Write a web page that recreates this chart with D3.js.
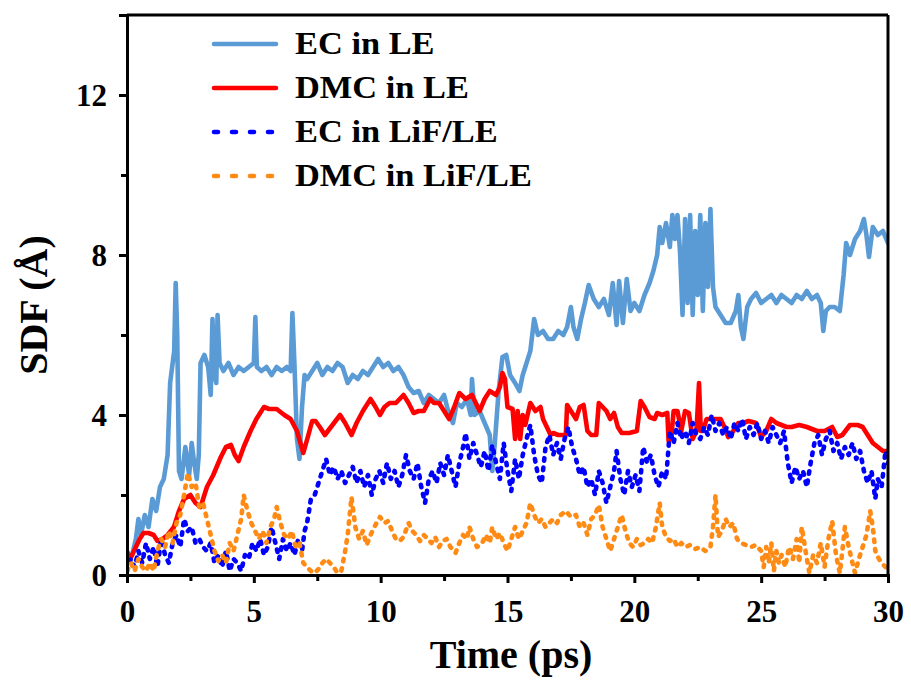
<!DOCTYPE html>
<html>
<head>
<meta charset="utf-8">
<script src="https://cdn.jsdelivr.net/npm/d3@7"></script>
<style>
  html, body { margin: 0; padding: 0; background: #fff; }
  svg { display: block; }
  text { font-family: "Liberation Serif", "Times New Roman", serif; font-weight: bold; fill: #000; }
</style>
</head>
<body>
<svg id="chart" width="911" height="682"></svg>
<script>
// ---------------- data (time in ps, SDF in Å) ----------------
const seriesNames = ["EC in LE", "DMC in LE", "EC in LiF/LE", "DMC in LiF/LE"];
const xTickValues = [0, 5, 10, 15, 20, 25, 30];
const yTickValues = [0, 4, 8, 12];

const ecLE = [[0,0.3],[0.2,0.5],[0.35,0.9],[0.45,1.4],[0.55,1.0],[0.7,1.5],[0.85,1.2],[1.0,1.9],[1.15,1.6],[1.3,2.2],[1.45,2.4],[1.6,3.0],[1.7,4.8],[1.78,5.2],[1.86,5.6],[1.92,7.3],[1.98,6.0],[2.05,2.6],[2.15,2.4],[2.3,3.2],[2.45,2.5],[2.55,3.3],[2.65,2.8],[2.75,2.4],[2.83,3.0],[2.9,5.3],[3.05,5.5],[3.2,5.2],[3.3,4.5],[3.37,6.4],[3.45,5.0],[3.52,4.8],[3.57,6.5],[3.65,5.3],[3.8,5.1],[4.0,5.3],[4.2,5.0],[4.4,5.2],[4.6,5.1],[4.8,5.2],[5.0,5.3],[5.06,6.45],[5.12,5.2],[5.3,5.1],[5.5,5.2],[5.7,5.0],[5.9,5.2],[6.1,5.1],[6.3,5.2],[6.45,5.1],[6.52,6.55],[6.6,5.3],[6.7,3.4],[6.8,2.9],[6.9,4.2],[7.0,5.0],[7.1,4.9],[7.3,5.1],[7.5,5.3],[7.7,5.0],[7.9,5.2],[8.1,5.1],[8.3,5.3],[8.5,5.2],[8.7,4.8],[8.9,5.0],[9.1,4.9],[9.3,5.1],[9.5,5.0],[9.7,5.2],[9.9,5.4],[10.1,5.2],[10.3,5.3],[10.5,5.1],[10.7,5.2],[10.9,5.0],[11.1,4.7],[11.3,4.55],[11.5,4.6],[11.7,4.3],[11.9,4.5],[12.1,4.4],[12.3,4.3],[12.5,4.5],[12.7,4.0],[12.85,3.8],[13.0,4.3],[13.2,4.2],[13.4,4.4],[13.55,4.0],[13.6,4.9],[13.7,4.0],[13.9,4.1],[14.1,3.8],[14.3,3.5],[14.4,2.6],[14.5,3.3],[14.65,4.6],[14.8,5.45],[14.95,5.5],[15.1,5.0],[15.3,4.8],[15.47,4.6],[15.6,5.0],[15.75,5.3],[15.9,5.6],[16.05,6.4],[16.2,6.0],[16.4,6.1],[16.6,5.9],[16.8,5.9],[17.0,6.1],[17.2,6.0],[17.35,6.2],[17.5,6.7],[17.6,6.2],[17.75,5.9],[17.9,6.4],[18.05,6.8],[18.2,7.25],[18.4,6.9],[18.6,6.7],[18.8,6.9],[19.0,6.5],[19.15,7.3],[19.3,6.25],[19.4,7.35],[19.55,6.3],[19.7,7.4],[19.85,6.6],[20.0,6.8],[20.2,6.6],[20.4,7.0],[20.6,7.3],[20.75,7.6],[20.9,8.0],[21.0,8.7],[21.1,8.3],[21.25,8.8],[21.4,8.2],[21.5,9.0],[21.6,8.4],[21.7,9.0],[21.8,8.1],[21.9,6.5],[22.0,8.9],[22.1,6.8],[22.2,9.0],[22.3,6.5],[22.4,8.6],[22.5,7.0],[22.6,9.0],[22.7,6.6],[22.8,8.8],[22.9,7.2],[23.0,9.15],[23.1,7.2],[23.2,6.7],[23.4,6.5],[23.6,6.3],[23.8,6.3],[24.0,6.6],[24.1,7.0],[24.2,6.2],[24.3,5.9],[24.45,6.7],[24.6,6.9],[24.8,7.05],[25.0,6.8],[25.2,6.9],[25.4,7.0],[25.6,6.8],[25.8,7.0],[26.0,6.9],[26.2,6.8],[26.4,7.0],[26.6,6.9],[26.8,7.1],[27.0,6.9],[27.2,7.0],[27.35,6.8],[27.45,6.1],[27.55,6.6],[27.7,6.7],[27.9,6.7],[28.1,6.6],[28.25,7.5],[28.35,8.3],[28.5,8.0],[28.7,8.4],[28.9,8.6],[29.05,8.9],[29.15,8.5],[29.25,7.95],[29.4,8.7],[29.6,8.5],[29.8,8.6],[30.0,8.3]];

const dmcLE = [[0,0.6],[0.1,0.4],[0.2,0.5],[0.35,0.7],[0.5,0.9],[0.65,1.05],[0.85,1.05],[1.05,1.0],[1.2,0.85],[1.4,0.9],[1.6,1.0],[1.85,1.2],[2.05,1.6],[2.25,1.9],[2.5,2.0],[2.7,1.8],[2.9,1.7],[3.15,2.2],[3.4,2.5],[3.7,2.95],[3.9,3.2],[4.1,3.25],[4.25,3.0],[4.4,2.85],[4.6,3.2],[4.87,3.6],[5.1,3.9],[5.4,4.2],[5.6,4.15],[5.9,4.15],[6.2,4.0],[6.45,3.9],[6.7,3.6],[6.95,3.05],[7.15,3.5],[7.3,3.85],[7.43,3.85],[7.6,3.7],[7.8,3.5],[8.1,3.75],[8.4,4.0],[8.6,3.8],[8.85,3.5],[9.05,3.8],[9.3,4.1],[9.6,4.4],[9.8,4.2],[9.97,4.0],[10.15,4.2],[10.35,4.3],[10.6,4.3],[10.9,4.5],[11.1,4.3],[11.3,4.05],[11.5,4.1],[11.7,4.1],[11.95,4.4],[12.1,4.3],[12.3,4.3],[12.5,4.1],[12.7,3.9],[12.9,4.2],[13.1,4.55],[13.35,4.4],[13.6,4.5],[13.75,4.3],[13.9,4.1],[14.1,4.4],[14.3,4.6],[14.55,4.5],[14.7,4.7],[14.8,5.05],[14.9,4.9],[15.0,4.2],[15.2,4.15],[15.3,3.4],[15.4,4.1],[15.5,3.4],[15.6,4.0],[15.7,3.75],[15.9,4.3],[16.1,4.1],[16.3,4.2],[16.4,3.9],[16.55,3.7],[16.7,3.5],[16.8,3.55],[17.0,3.5],[17.3,3.5],[17.35,4.25],[17.5,4.1],[17.7,3.9],[17.85,4.2],[18.0,4.25],[18.15,3.6],[18.3,3.5],[18.5,3.5],[18.6,4.3],[18.75,4.2],[18.9,4.1],[19.05,3.9],[19.2,4.05],[19.35,3.7],[19.5,3.55],[19.8,3.55],[20.1,3.6],[20.25,4.35],[20.4,4.2],[20.6,3.95],[20.8,3.9],[20.9,4.05],[21.1,4.0],[21.3,4.05],[21.35,3.35],[21.45,3.4],[21.55,4.1],[21.7,4.1],[21.85,3.6],[22.0,4.1],[22.15,4.05],[22.3,3.4],[22.45,3.6],[22.55,4.8],[22.62,3.6],[22.7,3.6],[22.85,3.9],[23.0,3.9],[23.2,3.9],[23.4,3.9],[23.55,3.7],[23.7,3.45],[23.9,3.6],[24.1,3.8],[24.3,3.8],[24.5,3.85],[24.8,3.8],[25.0,3.45],[25.2,3.6],[25.4,3.9],[25.6,3.8],[25.8,3.75],[26.0,3.7],[26.2,3.7],[26.5,3.75],[26.8,3.7],[27.0,3.65],[27.2,3.6],[27.5,3.6],[27.8,3.7],[28.0,3.45],[28.2,3.5],[28.5,3.75],[28.8,3.75],[29.0,3.7],[29.2,3.5],[29.4,3.3],[29.6,3.2],[29.8,3.1],[30.0,3.1]];

const ecLiF = [[0,0.1],[0.15,0.4],[0.3,0.2],[0.45,0.6],[0.6,0.3],[0.75,0.8],[0.9,0.4],[1.05,0.7],[1.2,0.2],[1.35,0.9],[1.5,0.5],[1.65,0.3],[1.8,0.8],[1.95,1.0],[2.1,0.7],[2.25,1.4],[2.4,1.1],[2.55,1.2],[2.7,0.8],[2.85,0.9],[3.0,0.7],[3.15,0.6],[3.3,0.8],[3.45,0.3],[3.6,0.5],[3.75,0.2],[3.9,0.6],[4.05,0.1],[4.2,0.4],[4.35,0.3],[4.5,0.1],[4.65,0.5],[4.8,0.4],[4.95,0.8],[5.1,0.6],[5.25,0.9],[5.4,0.5],[5.55,0.7],[5.7,1.2],[5.85,0.8],[6.0,0.4],[6.15,0.9],[6.3,0.6],[6.45,0.8],[6.6,0.5],[6.75,0.9],[6.9,0.6],[7.0,1.1],[7.1,1.3],[7.25,1.9],[7.4,2.0],[7.55,2.3],[7.7,2.6],[7.85,2.9],[8.0,2.5],[8.15,2.7],[8.3,2.4],[8.45,2.6],[8.6,2.3],[8.75,2.5],[8.9,2.7],[9.05,2.3],[9.2,2.6],[9.35,2.2],[9.5,2.5],[9.65,2.0],[9.8,2.4],[9.95,2.6],[10.1,2.3],[10.25,2.8],[10.4,2.4],[10.55,2.6],[10.7,2.2],[10.85,2.5],[11.0,3.0],[11.15,2.6],[11.3,2.4],[11.45,2.8],[11.6,2.2],[11.75,1.8],[11.9,2.4],[12.05,2.6],[12.2,2.3],[12.35,2.8],[12.5,2.5],[12.65,3.0],[12.8,2.6],[12.95,2.2],[13.1,2.8],[13.25,3.2],[13.35,3.55],[13.5,2.9],[13.65,3.3],[13.8,3.0],[13.95,2.7],[14.1,3.1],[14.25,2.6],[14.4,3.25],[14.55,2.8],[14.7,2.4],[14.85,3.3],[15.0,2.6],[15.15,2.1],[15.3,2.9],[15.45,2.4],[15.6,3.0],[15.75,3.4],[15.9,3.75],[16.05,3.0],[16.2,2.5],[16.35,2.3],[16.5,3.2],[16.65,3.5],[16.8,3.0],[16.95,3.3],[17.1,2.9],[17.25,3.4],[17.4,3.7],[17.55,3.2],[17.7,2.9],[17.85,2.5],[18.0,2.7],[18.15,2.2],[18.3,2.4],[18.45,2.0],[18.6,2.6],[18.75,2.3],[18.9,1.8],[19.05,2.2],[19.2,2.6],[19.3,3.1],[19.45,2.4],[19.6,2.0],[19.75,2.6],[19.9,2.2],[20.05,2.5],[20.2,2.1],[20.35,3.2],[20.5,2.8],[20.65,3.0],[20.8,2.5],[20.95,2.2],[21.1,2.6],[21.25,2.4],[21.4,3.6],[21.55,3.3],[21.7,3.8],[21.85,3.4],[22.0,3.6],[22.15,3.3],[22.3,3.8],[22.45,3.5],[22.6,3.4],[22.75,3.7],[22.9,3.5],[23.05,4.0],[23.2,3.6],[23.35,3.8],[23.5,3.5],[23.65,3.7],[23.8,3.4],[23.95,3.8],[24.1,3.6],[24.25,3.9],[24.4,3.4],[24.55,3.7],[24.7,3.5],[24.85,3.8],[25.0,3.4],[25.15,3.6],[25.3,3.3],[25.45,3.7],[25.6,3.5],[25.75,3.3],[25.9,3.6],[26.05,2.8],[26.2,2.3],[26.35,2.7],[26.5,2.4],[26.65,2.6],[26.8,2.2],[26.95,2.8],[27.1,3.3],[27.25,3.5],[27.4,3.0],[27.55,3.4],[27.7,3.6],[27.85,3.1],[28.0,3.3],[28.15,2.9],[28.3,3.2],[28.45,3.0],[28.6,3.3],[28.75,2.9],[28.9,3.1],[29.05,2.6],[29.2,2.3],[29.35,2.6],[29.5,1.9],[29.6,2.4],[29.75,2.2],[29.9,3.1],[30.0,2.8]];

const dmcLiF = [[0,0.1],[0.15,0.3],[0.3,0.1],[0.45,0.4],[0.6,0.2],[0.75,0.1],[0.9,0.3],[1.05,0.1],[1.2,0.6],[1.35,0.9],[1.5,0.7],[1.65,1.1],[1.8,0.8],[1.95,1.3],[2.1,1.5],[2.25,2.0],[2.4,2.55],[2.55,2.2],[2.7,2.3],[2.85,1.7],[3.0,1.8],[3.15,1.4],[3.3,1.0],[3.45,0.6],[3.6,0.35],[3.75,0.5],[3.9,0.3],[4.05,0.8],[4.2,0.6],[4.35,1.0],[4.5,1.4],[4.6,2.0],[4.75,1.6],[4.9,1.3],[5.05,1.1],[5.2,0.9],[5.35,1.1],[5.5,0.8],[5.65,1.2],[5.8,1.4],[5.9,1.7],[6.05,1.3],[6.2,1.0],[6.35,0.9],[6.5,1.1],[6.65,0.7],[6.8,0.8],[6.95,0.3],[7.1,0.2],[7.25,0.1],[7.4,0.05],[7.55,0.15],[7.7,0.3],[7.85,0.4],[8.0,0.3],[8.15,0.2],[8.3,0.05],[8.45,0.1],[8.6,0.6],[8.7,1.0],[8.85,1.95],[9.0,1.2],[9.15,0.9],[9.3,1.1],[9.45,0.75],[9.6,1.0],[9.75,1.2],[9.97,1.45],[10.15,1.3],[10.3,1.35],[10.45,1.1],[10.6,0.9],[10.75,0.85],[10.9,0.95],[11.1,1.3],[11.25,1.1],[11.4,1.0],[11.55,0.85],[11.7,1.0],[11.85,0.9],[12.0,0.8],[12.15,0.95],[12.3,0.7],[12.45,0.85],[12.6,0.9],[12.75,0.7],[12.95,0.55],[13.1,0.8],[13.25,1.0],[13.4,0.9],[13.5,1.2],[13.65,0.9],[13.8,0.7],[14.0,0.8],[14.15,1.0],[14.3,0.8],[14.4,1.2],[14.55,0.9],[14.7,1.05],[14.85,0.8],[15.0,0.6],[15.15,0.9],[15.3,1.2],[15.45,0.9],[15.6,1.1],[15.75,1.3],[15.9,1.8],[16.05,1.5],[16.2,1.3],[16.35,1.4],[16.5,1.2],[16.65,1.3],[16.8,1.4],[16.95,1.3],[17.1,1.5],[17.3,1.6],[17.5,1.45],[17.7,1.5],[17.85,1.2],[18.0,1.3],[18.15,1.0],[18.3,1.4],[18.45,1.5],[18.6,1.75],[18.75,1.2],[18.9,0.9],[19.05,0.6],[19.2,0.9],[19.35,1.2],[19.5,1.5],[19.65,1.1],[19.8,0.8],[19.95,0.7],[20.1,0.9],[20.25,0.75],[20.4,0.8],[20.55,0.9],[20.7,0.8],[20.85,1.2],[21.0,1.8],[21.1,1.2],[21.25,0.95],[21.4,0.85],[21.55,0.9],[21.7,0.7],[21.85,0.8],[22.0,0.7],[22.2,0.75],[22.4,0.65],[22.6,0.7],[22.8,0.6],[23.0,0.7],[23.1,1.2],[23.2,2.0],[23.3,0.95],[23.45,1.1],[23.6,1.4],[23.75,1.2],[23.9,1.3],[24.05,0.9],[24.2,0.8],[24.4,0.75],[24.6,0.7],[24.8,0.75],[25.0,0.6],[25.1,0.2],[25.2,0.7],[25.3,0.3],[25.4,0.8],[25.5,0.1],[25.6,0.6],[25.7,0.3],[25.8,0.5],[25.95,0.2],[26.1,0.7],[26.25,0.4],[26.4,0.9],[26.5,0.3],[26.6,1.2],[26.75,0.6],[26.9,0.05],[27.05,0.5],[27.2,0.3],[27.35,0.8],[27.5,0.2],[27.65,0.9],[27.8,1.35],[27.95,0.5],[28.1,0.05],[28.2,0.6],[28.3,1.2],[28.45,0.7],[28.6,0.3],[28.7,0.05],[28.85,0.4],[29.0,0.7],[29.15,1.0],[29.3,1.6],[29.4,1.2],[29.5,0.6],[29.6,0.45],[29.75,0.3],[29.9,0.2],[30.0,0.15]];

// ---------------- drawing ----------------
const svg = d3.select("#chart");
const L = 127, R = 888, T = 15, B = 575;

const x = d3.scaleLinear().domain([0, 30]).range([L, R]);
const y = d3.scaleLinear().domain([0, 14]).range([B, T]);

const colors = ["#5B9BD5", "#FF0000", "#0000FF", "#FF8A14"];
const plotDash = [null, null, "2.5,7", "2.5,7"];
const legendDash = [null, null, "4,14", "4,14"];
const data = [ecLE, dmcLE, ecLiF, dmcLiF];

svg.append("defs").append("clipPath").attr("id", "clip")
  .append("rect").attr("x", L).attr("y", T).attr("width", R - L).attr("height", B - T);

const line = d3.line().x(d => x(d[0])).y(d => y(d[1]));

const plot = svg.append("g").attr("clip-path", "url(#clip)");
data.forEach((s, i) => {
  const p = plot.append("path")
    .datum(s)
    .attr("d", line)
    .attr("fill", "none")
    .attr("stroke", colors[i])
    .attr("stroke-width", 4.6)
    .attr("stroke-linejoin", "round")
    .attr("stroke-linecap", "round");
  if (plotDash[i]) p.attr("stroke-dasharray", plotDash[i]);
});

// frame top / right
svg.append("line").attr("x1", L).attr("x2", R).attr("y1", T).attr("y2", T)
  .attr("stroke", "#000").attr("stroke-width", 3);
svg.append("line").attr("x1", R).attr("x2", R).attr("y1", T).attr("y2", B)
  .attr("stroke", "#000").attr("stroke-width", 3);

// minor ticks
const xMinor = d3.axisBottom(x).tickValues([2.5, 7.5, 12.5, 17.5, 22.5, 27.5]).tickSize(6).tickFormat("");
const yMinor = d3.axisLeft(y).tickValues([2, 6, 10]).tickSize(6).tickFormat("");

const gxm = svg.append("g").attr("transform", `translate(0,${B})`).call(xMinor);
const gym = svg.append("g").attr("transform", `translate(${L},0)`).call(yMinor);

// major axes
const xAxis = d3.axisBottom(x).tickValues(xTickValues).tickSize(8).tickPadding(8).tickFormat(d3.format("d"));
const yAxis = d3.axisLeft(y).tickValues(yTickValues).tickSize(8).tickPadding(12).tickFormat(d3.format("d"));

const gx = svg.append("g").attr("transform", `translate(0,${B})`).call(xAxis);
const gy = svg.append("g").attr("transform", `translate(${L},0)`).call(yAxis);

[gx, gy, gxm, gym].forEach(g => {
  g.select(".domain").attr("stroke", "#000").attr("stroke-width", 3);
  g.selectAll(".tick line").attr("stroke", "#000").attr("stroke-width", 3);
});
gxm.select(".domain").remove();
gym.select(".domain").remove();

gx.selectAll(".tick text")
  .attr("font-family", "'Liberation Serif', serif")
  .attr("font-weight", "bold").attr("font-size", 31).attr("fill", "#000")
  .attr("y", 47).attr("dy", 0);
gy.selectAll(".tick text")
  .attr("font-family", "'Liberation Serif', serif")
  .attr("font-weight", "bold").attr("font-size", 31).attr("fill", "#000")
  .attr("dy", "0.35em");

// axis titles
svg.append("text")
  .attr("x", 511).attr("y", 668)
  .attr("text-anchor", "middle")
  .attr("font-size", 40)
  .text("Time (ps)");

svg.append("text")
  .attr("transform", "translate(47,305) rotate(-90)")
  .attr("text-anchor", "middle")
  .attr("font-size", 40)
  .text("SDF (Å)");

// legend
const legY = [44, 88, 132, 176];
const leg = svg.append("g");
seriesNames.forEach((name, i) => {
  const ln = leg.append("line")
    .attr("x1", 214).attr("x2", 276)
    .attr("y1", legY[i]).attr("y2", legY[i])
    .attr("stroke", colors[i]).attr("stroke-width", 4.6)
    .attr("stroke-linecap", "round");
  if (legendDash[i]) ln.attr("stroke-dasharray", legendDash[i]);
  leg.append("text")
    .attr("transform", `translate(295,${legY[i] + 10}) scale(1.11,1)`)
    .attr("font-size", 31)
    .text(name);
});
</script>
</body>
</html>
